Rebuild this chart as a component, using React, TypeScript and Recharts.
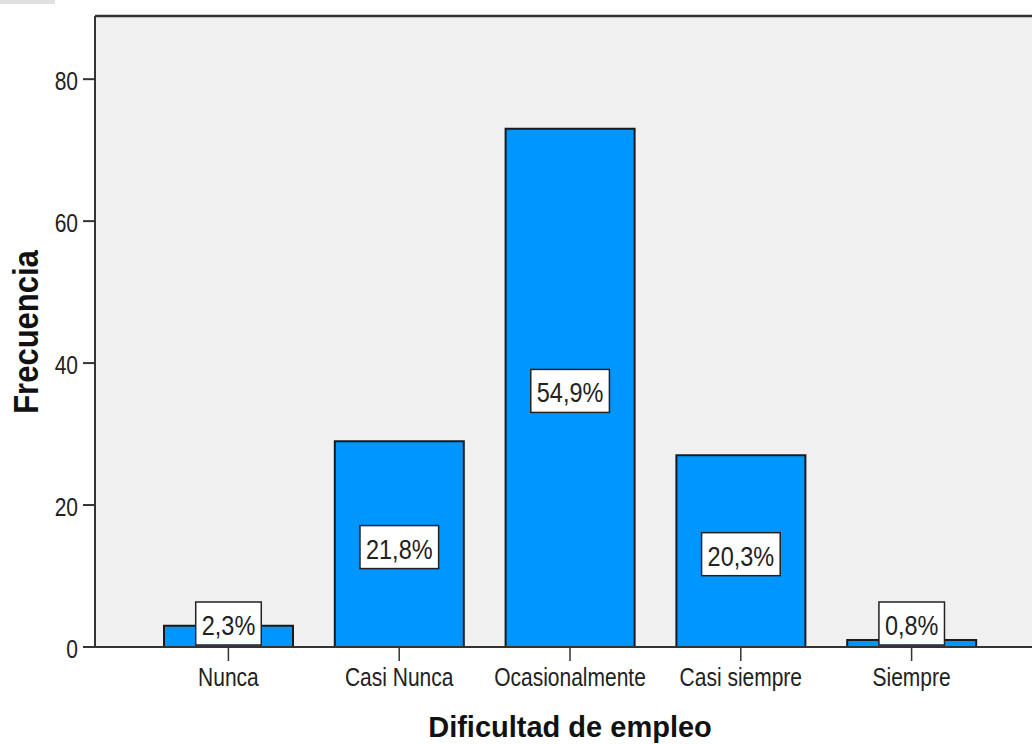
import React from 'react';
import {
  BarChart, Bar, XAxis, YAxis, CartesianGrid, LabelList, ReferenceLine,
} from 'recharts';

const FONT = '"Liberation Sans", Arial, sans-serif';

const categories = ['Nunca', 'Casi Nunca', 'Ocasionalmente', 'Casi siempre', 'Siempre'];
const counts = [3, 29, 73, 27, 1];
const percents = ['2,3%', '21,8%', '54,9%', '20,3%', '0,8%'];
const yTicks = [0, 20, 40, 60, 80];
const Y_MAX = 88.9;

const data = categories.map((name, i) => ({ name, count: counts[i], pct: percents[i] }));

// rough Arial advance widths, for sizing the label boxes
const charW = (c: string) => (c === ',' ? 0.278 : c === '%' ? 0.889 : 0.556);
const textWidth = (s: string, size: number) =>
  s.split('').reduce((acc, c) => acc + charW(c) * size, 0);

const XTick = (props: any) => {
  const { x, y, payload } = props;
  return (
    <text
      transform={`translate(${x},${y + 25}) scale(1,1.22)`}
      textAnchor="middle"
      fontSize={21}
      fontFamily={FONT}
      fill="#222"
    >
      {payload.value}
    </text>
  );
};

const YTick = (props: any) => {
  const { x, y, payload } = props;
  return (
    <text
      transform={`translate(${x},${y + 10.5}) scale(1,1.22)`}
      textAnchor="end"
      fontSize={21}
      fontFamily={FONT}
      fill="#222"
    >
      {payload.value}
    </text>
  );
};

const BarLabel = (props: any) => {
  const { x, y, width, height, value } = props;
  const size = 23.5;
  const w = textWidth(String(value), size) + 12;
  const h = 43;
  const bottom = Number(y) + Number(height);
  let cy = Number(y) + Number(height) / 2 + 3;
  cy = Math.min(cy, bottom - h / 2 - 2);
  const cx = Number(x) + Number(width) / 2;
  return (
    <g>
      <rect x={cx - w / 2} y={cy - h / 2} width={w} height={h} fill="#fff" stroke="#222" strokeWidth={1.5} />
      <text
        transform={`translate(${cx},${cy + 11.5}) scale(1,1.15)`}
        textAnchor="middle"
        fontSize={size}
        fontFamily={FONT}
        fill="#222"
      >
        {value}
      </text>
    </g>
  );
};

export default function App() {
  return (
    <div style={{ position: 'absolute', left: 0, top: 0, width: 1032, height: 744, overflow: 'hidden', background: '#fff' }}>
      <div style={{ position: 'absolute', left: 0, top: 0, width: 55, height: 4, background: '#e0e0e0' }} />
      <BarChart
        width={1045}
        height={744}
        data={data}
        margin={{ top: 16, right: 5, bottom: 0, left: 0 }}
      >
        <CartesianGrid horizontal={false} vertical={false} fill="#F0F0F0" />
        <XAxis
          dataKey="name"
          height={97}
          padding={{ left: 48, right: 43 }}
          axisLine={{ stroke: '#333', strokeWidth: 2 }}
          tickLine={{ stroke: '#333', strokeWidth: 1.5 }}
          tickSize={14}
          tickMargin={0}
          tick={<XTick />}
          interval={0}
          label={{
            content: () => (
              <text x={570} y={737} textAnchor="middle" fontSize={29} fontWeight="bold" fontFamily={FONT} fill="#111">
                Dificultad de empleo
              </text>
            ),
          }}
        />
        <YAxis
          width={95}
          domain={[0, Y_MAX]}
          ticks={yTicks}
          axisLine={{ stroke: '#333', strokeWidth: 2 }}
          tickLine={{ stroke: '#333', strokeWidth: 2 }}
          tickSize={12}
          tickMargin={5}
          tick={<YTick />}
          label={{
            content: () => (
              <text
                transform="translate(38,332) rotate(-90) scale(1,1.15)"
                textAnchor="middle"
                fontSize={31}
                fontWeight="bold"
                fontFamily={FONT}
                fill="#111"
              >
                Frecuencia
              </text>
            ),
          }}
        />
        <ReferenceLine y={Y_MAX} stroke="#333" strokeWidth={2.5} />
        <Bar
          dataKey="count"
          fill="#0096FF"
          stroke="#1a1a1a"
          strokeWidth={2}
          barSize={129}
          isAnimationActive={false}
        >
          <LabelList dataKey="pct" content={<BarLabel />} />
        </Bar>
      </BarChart>
    </div>
  );
}
